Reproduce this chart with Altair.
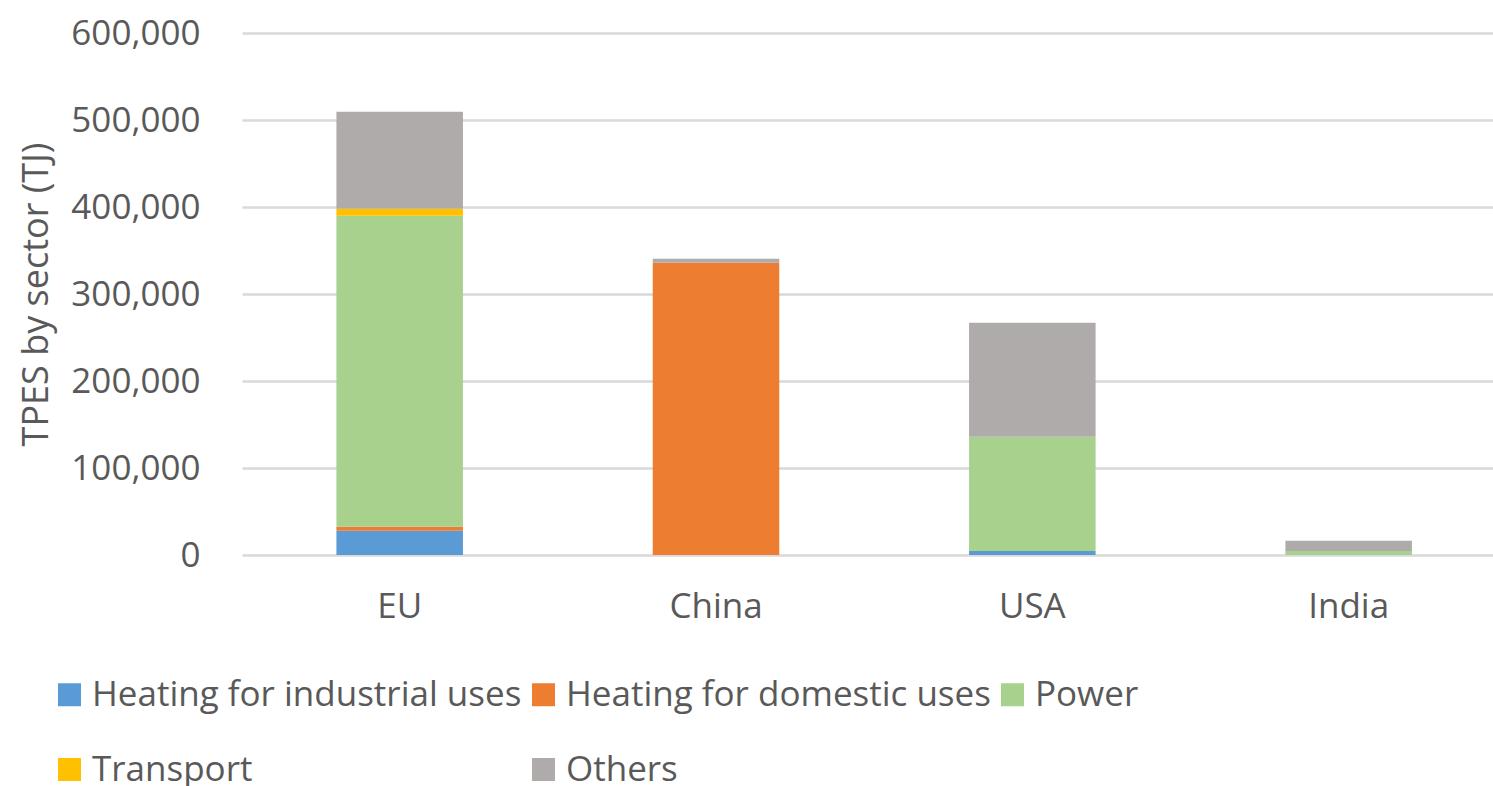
import altair as alt
import pandas as pd

# Total primary energy supply by sector, in TJ
regions = ["EU", "China", "USA", "India"]
sectors = [
    "Heating for industrial uses",
    "Heating for domestic uses",
    "Power",
    "Transport",
    "Others",
]
industrial = [28000, 0, 4500, 0]
domestic = [4500, 336000, 0, 0]
power = [357500, 0, 131500, 4500]
transport = [8000, 0, 0, 0]
others = [111500, 4500, 131000, 12000]
y_ticks = [0, 100000, 200000, 300000, 400000, 500000, 600000]

colors = ["#5B9BD5", "#ED7D31", "#A9D18E", "#FFC000", "#AFABAB"]

series = [industrial, domestic, power, transport, others]
rows = []
for k, (name, vals) in enumerate(zip(sectors, series)):
    for region, v in zip(regions, vals):
        rows.append({"region": region, "sector": name, "value": v, "order": k})
df = pd.DataFrame(rows)

FONT = "Open Sans"
TXT = "#595959"

chart = (
    alt.Chart(df)
    .mark_bar()
    .encode(
        x=alt.X(
            "region:N",
            sort=regions,
            scale=alt.Scale(paddingInner=0.6, paddingOuter=0.2774, align=0.538),
            axis=alt.Axis(
                title=None,
                labelAngle=0,
                ticks=False,
                domain=False,
                labelPadding=34,
                labelFontSize=35,
                labelFont=FONT,
                labelColor=TXT,
            ),
        ),
        y=alt.Y(
            "value:Q",
            stack="zero",
            scale=alt.Scale(domain=[0, 600000], nice=False),
            axis=alt.Axis(
                values=y_ticks,
                format=",d",
                ticks=False,
                domain=False,
                grid=True,
                gridColor="#D9D9D9",
                gridWidth=2.5,
                labelPadding=42,
                labelFontSize=35,
                labelFont=FONT,
                labelColor=TXT,
                title="TPES by sector (TJ)",
                titleFont=FONT,
                titleFontSize=36,
                titleFontWeight="normal",
                titleColor=TXT,
                titleX=-206,
                titleY=261,
                titleBaseline="middle",
            ),
        ),
        color=alt.Color(
            "sector:N",
            scale=alt.Scale(domain=sectors, range=colors),
            legend=alt.Legend(
                title=None,
                orient="none",
                legendX=-190,
                legendY=644,
                direction="horizontal",
                columns=3,
                gridAlign="each",
                symbolType="square",
                symbolSize=529,
                symbolStrokeWidth=0,
                labelFont=FONT,
                labelFontSize=35,
                labelColor=TXT,
                labelLimit=1000,
                labelOffset=5,
                columnPadding=4,
                rowPadding=39,
            ),
        ),
        order=alt.Order("order:Q", sort="ascending"),
    )
    .properties(
        width=1251,
        height=522,
        padding={"left": 242, "top": 33, "right": 0, "bottom": 231},
        autosize=alt.AutoSizeParams(type="none"),
    )
    .configure_view(stroke=None)
)

chart.save("out.html", embed_options={"renderer": "svg", "actions": False})
